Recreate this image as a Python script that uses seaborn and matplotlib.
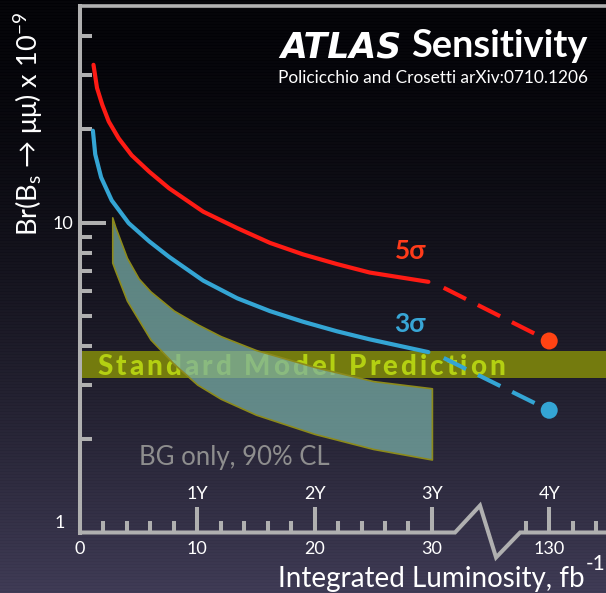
import numpy as np
import pandas as pd
import matplotlib as mpl
mpl.use('Agg')
import matplotlib.pyplot as plt
import matplotlib.transforms as mtransforms
from matplotlib.ticker import FixedLocator, NullFormatter
import seaborn as sns

# integrated luminosity (fb^-1) and discovery reach, Br x 10^-9
lumi5 = [1.15, 1.45, 1.9, 2.45, 3.3, 4.4, 5.9, 7.6, 10.5, 13.4, 16.2, 19.0, 21.9, 24.7, 29.7]
sig5 = [32.3, 27.2, 24.0, 21.2, 18.7, 16.5, 14.6, 12.9, 10.85, 9.6, 8.6, 7.9, 7.35, 6.9, 6.44]
lumi3 = [1.1, 1.3, 1.8, 2.7, 4.15, 5.9, 7.6, 10.5, 13.4, 16.2, 19.0, 21.9, 24.7, 29.7]
sig3 = [19.8, 16.6, 14.0, 11.8, 9.96, 8.7, 7.75, 6.5, 5.70, 5.18, 4.79, 4.46, 4.20, 3.82]

# extrapolation to 4 years
lumi_near = 30
lumi_far = 130
sig5_far = 4.15
sig3_far = 2.48

# background only, 90% CL
bg_lumi = [2.75, 3, 4, 5, 6, 8, 10, 12, 15, 20, 25, 30]
bg_high = [10.4, 9.7, 7.7, 6.6, 6.0, 5.2, 4.7, 4.3, 3.88, 3.42, 3.08, 2.92]
bg_low = [7.43, 7.0, 5.6, 4.85, 4.2, 3.5, 3.0, 2.7, 2.4, 2.08, 1.86, 1.72]

sm_band = [3.15, 3.85]

lumi_ticks = [0, 10, 20, 30, 130]
lumi_minor = [2, 4, 6, 8, 12, 14, 16, 18, 22, 24, 26, 28, 128, 132, 134]
year_ticks = [10, 20, 30, 130]
year_labels = ['1Y', '2Y', '3Y', '4Y']

BREAK_LO, BREAK_HI = 30, 120


def to_axis(l):
    # broken x axis: 30 -> 120 squeezed out
    l = np.asarray(l, dtype=float)
    return np.where(l <= BREAK_LO, l, l - (BREAK_HI - BREAK_LO))


sns.set_theme(style='ticks')
plt.rcParams['font.family'] = ['Lato', 'DejaVu Sans']
plt.rcParams['mathtext.fontset'] = 'custom'
plt.rcParams['mathtext.rm'] = 'Lato'
plt.rcParams['mathtext.it'] = 'Lato:italic'
plt.rcParams['mathtext.bf'] = 'Lato:bold'
plt.rcParams['lines.scale_dashes'] = False

W, H = 606, 593
fig = plt.figure(figsize=(W / 100, H / 100), dpi=100)

# background gradient with faint scan lines
bg = fig.add_axes([0, 0, 1, 1], zorder=-10)
t = np.linspace(0, 1, H) ** 1.6
top = np.array([5, 5, 9]) / 255
bot = np.array([64, 60, 86]) / 255
grad = top[None, :] * (1 - t[:, None]) + bot[None, :] * t[:, None]
stripe = np.where(np.arange(H) % 3 == 0, -0.012, 0.0)
grad = np.clip(grad + stripe[:, None], 0, 1)
bg.imshow(grad[:, None, :], aspect='auto', extent=[0, 1, 0, 1], origin='upper')
bg.axis('off')

grey = '#b0b0b0'
red = '#fe1b14'
blue = '#34a5d4'

ax = fig.add_axes([80 / W, 60.5 / H, 526 / W, 526.5 / H])
ax.set_facecolor('none')
ax.set_yscale('log')
ax.set_ylim(1, 50)
xmax = (W - 80) / 11.73
ax.set_xlim(0, xmax)

# Standard Model band, letter-spaced label
ax.axhspan(sm_band[0], sm_band[1], color='#747b0e', lw=0, zorder=1)
sm_text = 'Standard Model Prediction'
sm_prop = mpl.font_manager.FontProperties(family=['Lato', 'DejaVu Sans'], weight='black', size=20)
renderer = fig.canvas.get_renderer()


def text_w(s):
    return renderer.get_text_width_height_descent(s, sm_prop, ismath=False)[0]


natural_w = text_w(sm_text)
track = (408 - natural_w) / (len(sm_text) - 1)
sm_mid = np.sqrt(sm_band[0] * sm_band[1])
for i, c in enumerate(sm_text):
    if c == ' ':
        continue
    x_px = text_w(sm_text[:i + 1]) - text_w(c) + i * track
    ax.annotate(c, xy=(1.45, sm_mid), xytext=(x_px * 0.72, -7.2),
                textcoords='offset points', ha='left', va='baseline',
                color='#b4d012', fontproperties=sm_prop, zorder=2)

# background-only band
ax.fill_between(to_axis(bg_lumi), bg_low, bg_high,
                facecolor=mpl.colors.to_rgba('#7bb2aa', 0.72),
                edgecolor='#8c8a1c', lw=1.2, zorder=3)

df5 = pd.DataFrame({'lumi': to_axis(lumi5), 'br': sig5})
df3 = pd.DataFrame({'lumi': to_axis(lumi3), 'br': sig3})
sns.lineplot(data=df5, x='lumi', y='br', color=red, lw=3, ax=ax, zorder=4)
sns.lineplot(data=df3, x='lumi', y='br', color=blue, lw=3, ax=ax, zorder=4)

dash = (18, (18, 9.5))
ax.plot(to_axis([lumi_near, lumi_far]), [sig5[-1], sig5_far], color=red, lw=3,
        linestyle=dash, zorder=4)
ax.plot(to_axis([lumi_near, lumi_far]), [sig3[-1], sig3_far], color=blue, lw=3,
        linestyle=dash, zorder=4)
far = pd.DataFrame({'lumi': to_axis([lumi_far, lumi_far]), 'br': [sig5_far, sig3_far]})
sns.scatterplot(data=far, x='lumi', y='br', hue=['a', 'b'], palette=['#ff4313', blue],
                s=150, edgecolor='none', legend=False, ax=ax, zorder=5)

ax.text(28.2, 8.1, '5σ', color='#ff3b1a', fontsize=19, weight='bold', ha='center', va='center')
ax.text(28.1, 4.72, '3σ', color='#38a6d6', fontsize=19, weight='bold', ha='center', va='center')
ax.text(5.0, 1.75, 'BG only, 90% CL', color='#8e8e8e', fontsize=18.5, ha='left', va='center')

# axes frame
for s in ['right', 'bottom']:
    ax.spines[s].set_visible(False)
ax.spines['left'].set_color(grey)
ax.spines['left'].set_linewidth(2.9)
ax.spines['top'].set_color(grey)
ax.spines['top'].set_linewidth(2.6)

trans = mtransforms.blended_transform_factory(ax.transData, ax.transAxes)
ax.plot([0, 30, 31.97, 34.1, 35.47, 37.52, xmax], [0, 0, 0, 0.0512, -0.0474, 0, 0],
        transform=trans, color=grey, lw=2.9, clip_on=False, solid_joinstyle='miter',
        solid_capstyle='projecting', zorder=6)

ax.yaxis.set_major_locator(FixedLocator([10]))
ax.yaxis.set_minor_locator(FixedLocator([2, 3, 4, 5, 6, 7, 8, 9, 20, 30, 40]))
ax.yaxis.set_major_formatter(mpl.ticker.FixedFormatter(['10']))
ax.yaxis.set_minor_formatter(NullFormatter())
ax.set_xticks(to_axis(lumi_ticks), labels=[str(l) for l in lumi_ticks])
ax.set_xticks(to_axis(lumi_minor), minor=True)
ax.tick_params(which='both', direction='in', color=grey, width=2.9,
               labelcolor='white', labelsize=13)
ax.tick_params(which='major', length=19)
ax.tick_params(which='minor', length=8.6)
ax.tick_params(axis='y', which='major', pad=5)
ax.tick_params(axis='x', which='major', pad=6)
ax.set_xlabel('')
ax.set_ylabel('')
ax.annotate('1', xy=(0, 1), xycoords=('axes fraction', 'data'), xytext=(-11, 7),
            textcoords='offset points', ha='right', va='center', color='white', fontsize=13)

for l, lab in zip(year_ticks, year_labels):
    ax.text(float(to_axis(l)), 0.074, lab, transform=trans, ha='center', va='center',
            color='white', fontsize=13)

# titles and axis names
fig.text(402 / W, 1 - 57 / H, 'ATLAS', ha='right', va='baseline', fontsize=25,
         weight='bold', style='italic', family=['DejaVu Sans'], color='white')
fig.text(411 / W, 1 - 57 / H, 'Sensitivity', ha='left', va='baseline', fontsize=27.3,
         weight='bold', color='white')
fig.text(588 / W, 1 - 83 / H, 'Policicchio and Crosetti arXiv:0710.1206', ha='right',
         va='baseline', fontsize=12.4, color='white')
fig.text(29 / W, 1 - 124 / H, r'Br(B$_\mathrm{s}$ → μμ) x 10$^{-9}$', rotation=90,
         ha='center', va='center', fontsize=19.5, color='white')
fig.text(585 / W, 1 - 587 / H, 'Integrated Luminosity, fb', ha='right', va='baseline',
         fontsize=20, color='white')
fig.text(586 / W, 1 - 570 / H, '-1', ha='left', va='baseline', fontsize=15, color='white')

fig.savefig('out.png', dpi=100, facecolor='black')
